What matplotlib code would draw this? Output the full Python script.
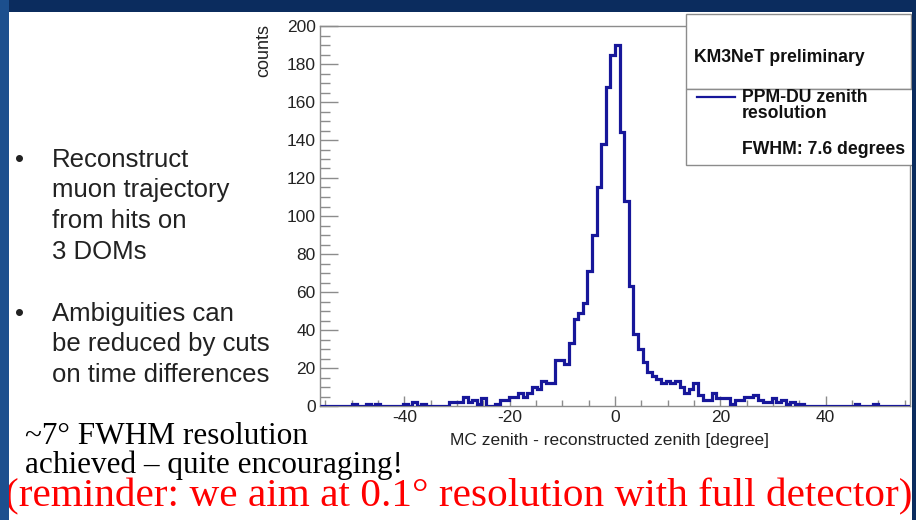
import numpy as np
import matplotlib.pyplot as plt
from matplotlib.patches import Rectangle
from matplotlib.lines import Line2D

plt.rcParams["axes.unicode_minus"] = False

# zenith residual histogram: 128 bins over [-56, 56] degrees
x_min, x_max = -56, 56
counts = [
    0, 0, 0, 0, 0, 0, 0, 1, 0, 0,
    1, 0, 1, 0, 0, 0, 0, 0, 1, 0,
    2, 0, 1, 0, 0, 0, 0, 0, 2, 2,
    2, 5, 2, 3, 1, 4, 0, 0, 1, 3,
    3, 5, 5, 7, 5, 7, 10, 9, 13, 12,
    12, 24, 24, 22, 33, 46, 49, 54, 71, 90,
    115, 138, 168, 185, 190, 144, 108, 63, 38, 30,
    23, 18, 16, 14, 12, 13, 12, 13, 10, 7,
    9, 12, 6, 3, 3, 7, 4, 4, 4, 1,
    3, 3, 5, 5, 6, 3, 2, 2, 4, 2,
    3, 1, 2, 1, 1, 0, 0, 0, 0, 0,
    0, 0, 0, 0, 0, 0, 1, 0, 0, 0,
    1, 0, 0, 0, 0, 0, 0, 0,
]
edges = np.linspace(x_min, x_max, len(counts) + 1)

y_ticks = [0, 20, 40, 60, 80, 100, 120, 140, 160, 180, 200]
x_ticks = [-40, -20, 0, 20, 40]

bullets = [
    ["Reconstruct", "muon trajectory", "from hits on", "3 DOMs"],
    ["Ambiguities can", "be reduced by cuts", "on time differences"],
]
legend_title = "KM3NeT preliminary"
legend_entry = ["PPM-DU zenith", "resolution"]
fwhm_text = "FWHM: 7.6 degrees"

W, H = 916, 520
fig = plt.figure(figsize=(W / 100, H / 100), dpi=100)
fig.patch.set_facecolor("white")


def fx(x):
    return x / W


def fy(y):
    return 1 - y / H


sans = "Liberation Sans"
serif = "Liberation Serif"
hist_col = "#17179a"
frame_col = "#8c8c8c"
text_col = "#222222"

# plot frame
ax = fig.add_axes([fx(320), fy(406), fx(910) - fx(320), fy(26) - fy(406)])
ax.stairs(counts, edges, color=hist_col, lw=2.3, baseline=0, zorder=3)
ax.set_xlim(x_min, x_max)
ax.set_ylim(0, 200)

ax.set_yticks(y_ticks)
ax.set_yticks(np.arange(0, 201, 5), minor=True)
ax.set_xticks(x_ticks)
ax.set_xticks(np.arange(-55, 56, 5), minor=True)
ax.tick_params(axis="y", which="major", direction="in", length=13, width=1,
               color=frame_col, pad=3, labelsize=12.5)
ax.tick_params(axis="y", which="minor", direction="in", length=7, width=1,
               color=frame_col)
ax.tick_params(axis="x", which="major", direction="in", length=7.5, width=1,
               color=frame_col, pad=3, labelsize=12.5)
ax.tick_params(axis="x", which="minor", direction="in", length=4, width=1,
               color=frame_col)
for lab in ax.get_xticklabels() + ax.get_yticklabels():
    lab.set_family(sans)
    lab.set_color(text_col)
for s in ax.spines.values():
    s.set_color(frame_col)
    s.set_linewidth(1)

fig.text(fx(264), fy(24), "counts", rotation=90, ha="center", va="top",
         fontsize=13, family=sans, color=text_col)
fig.text(fx(610), fy(440), "MC zenith - reconstructed zenith [degree]",
         ha="center", va="center", fontsize=12.5, family=sans, color=text_col)

# legend panels
fig.add_artist(Rectangle((fx(686), fy(89)), fx(911) - fx(686), fy(14) - fy(89),
                         transform=fig.transFigure, facecolor="white",
                         edgecolor=frame_col, lw=1, zorder=4))
fig.add_artist(Rectangle((fx(686), fy(165)), fx(916) - fx(686), fy(89) - fy(165),
                         transform=fig.transFigure, facecolor="white",
                         edgecolor=frame_col, lw=1, zorder=4))
fig.text(fx(694), fy(57), legend_title, ha="left", va="center", fontsize=12.7,
         weight="bold", family=sans, color="#111111", zorder=5)
fig.add_artist(Line2D([fx(697), fx(735)], [fy(97), fy(97)],
                      transform=fig.transFigure, color=hist_col, lw=1.6, zorder=5))
for k, line in enumerate(legend_entry):
    fig.text(fx(742), fy(97 + 16.5 * k), line, ha="left", va="center",
             fontsize=12.7, weight="bold", family=sans, color="#111111", zorder=5)
fig.text(fx(742), fy(150), fwhm_text, ha="left", va="center", fontsize=12.7,
         weight="bold", family=sans, color="#111111", zorder=5)

# slide border
navy = "#0b2c5e"
fig.add_artist(Rectangle((0, fy(12)), 1, 12 / H, transform=fig.transFigure,
                         facecolor=navy, edgecolor="none", zorder=6))
fig.add_artist(Rectangle((0, 0), fx(9), 1, transform=fig.transFigure,
                         facecolor="#1c4f8e", edgecolor="none", zorder=6))
fig.add_artist(Rectangle((fx(912), 0), 1 - fx(912), 1, transform=fig.transFigure,
                         facecolor=navy, edgecolor="none", zorder=6))

# bullet points
y0 = [160, 314]
for block, top in zip(bullets, y0):
    fig.text(fx(20), fy(top), "\u2022", ha="center", va="center",
             fontsize=18.5, family=sans, color=text_col)
    for k, line in enumerate(block):
        fig.text(fx(52), fy(top + 30.5 * k), line, ha="left", va="center",
                 fontsize=18.5, family=sans, color=text_col)

fig.text(fx(25), fy(437), "~7\u00b0 FWHM resolution", ha="left", va="center",
         fontsize=22.5, family=serif, color="black")
fig.text(fx(25), fy(465), "achieved \u2013 quite encouraging!", ha="left",
         va="center", fontsize=22.5, family=serif, color="black")
fig.text(fx(5), fy(497),
         "(reminder: we aim at 0.1\u00b0 resolution with full detector)",
         ha="left", va="center", fontsize=29.7, family=serif, color="#ff0000")

fig.savefig("out.png", dpi=100)
